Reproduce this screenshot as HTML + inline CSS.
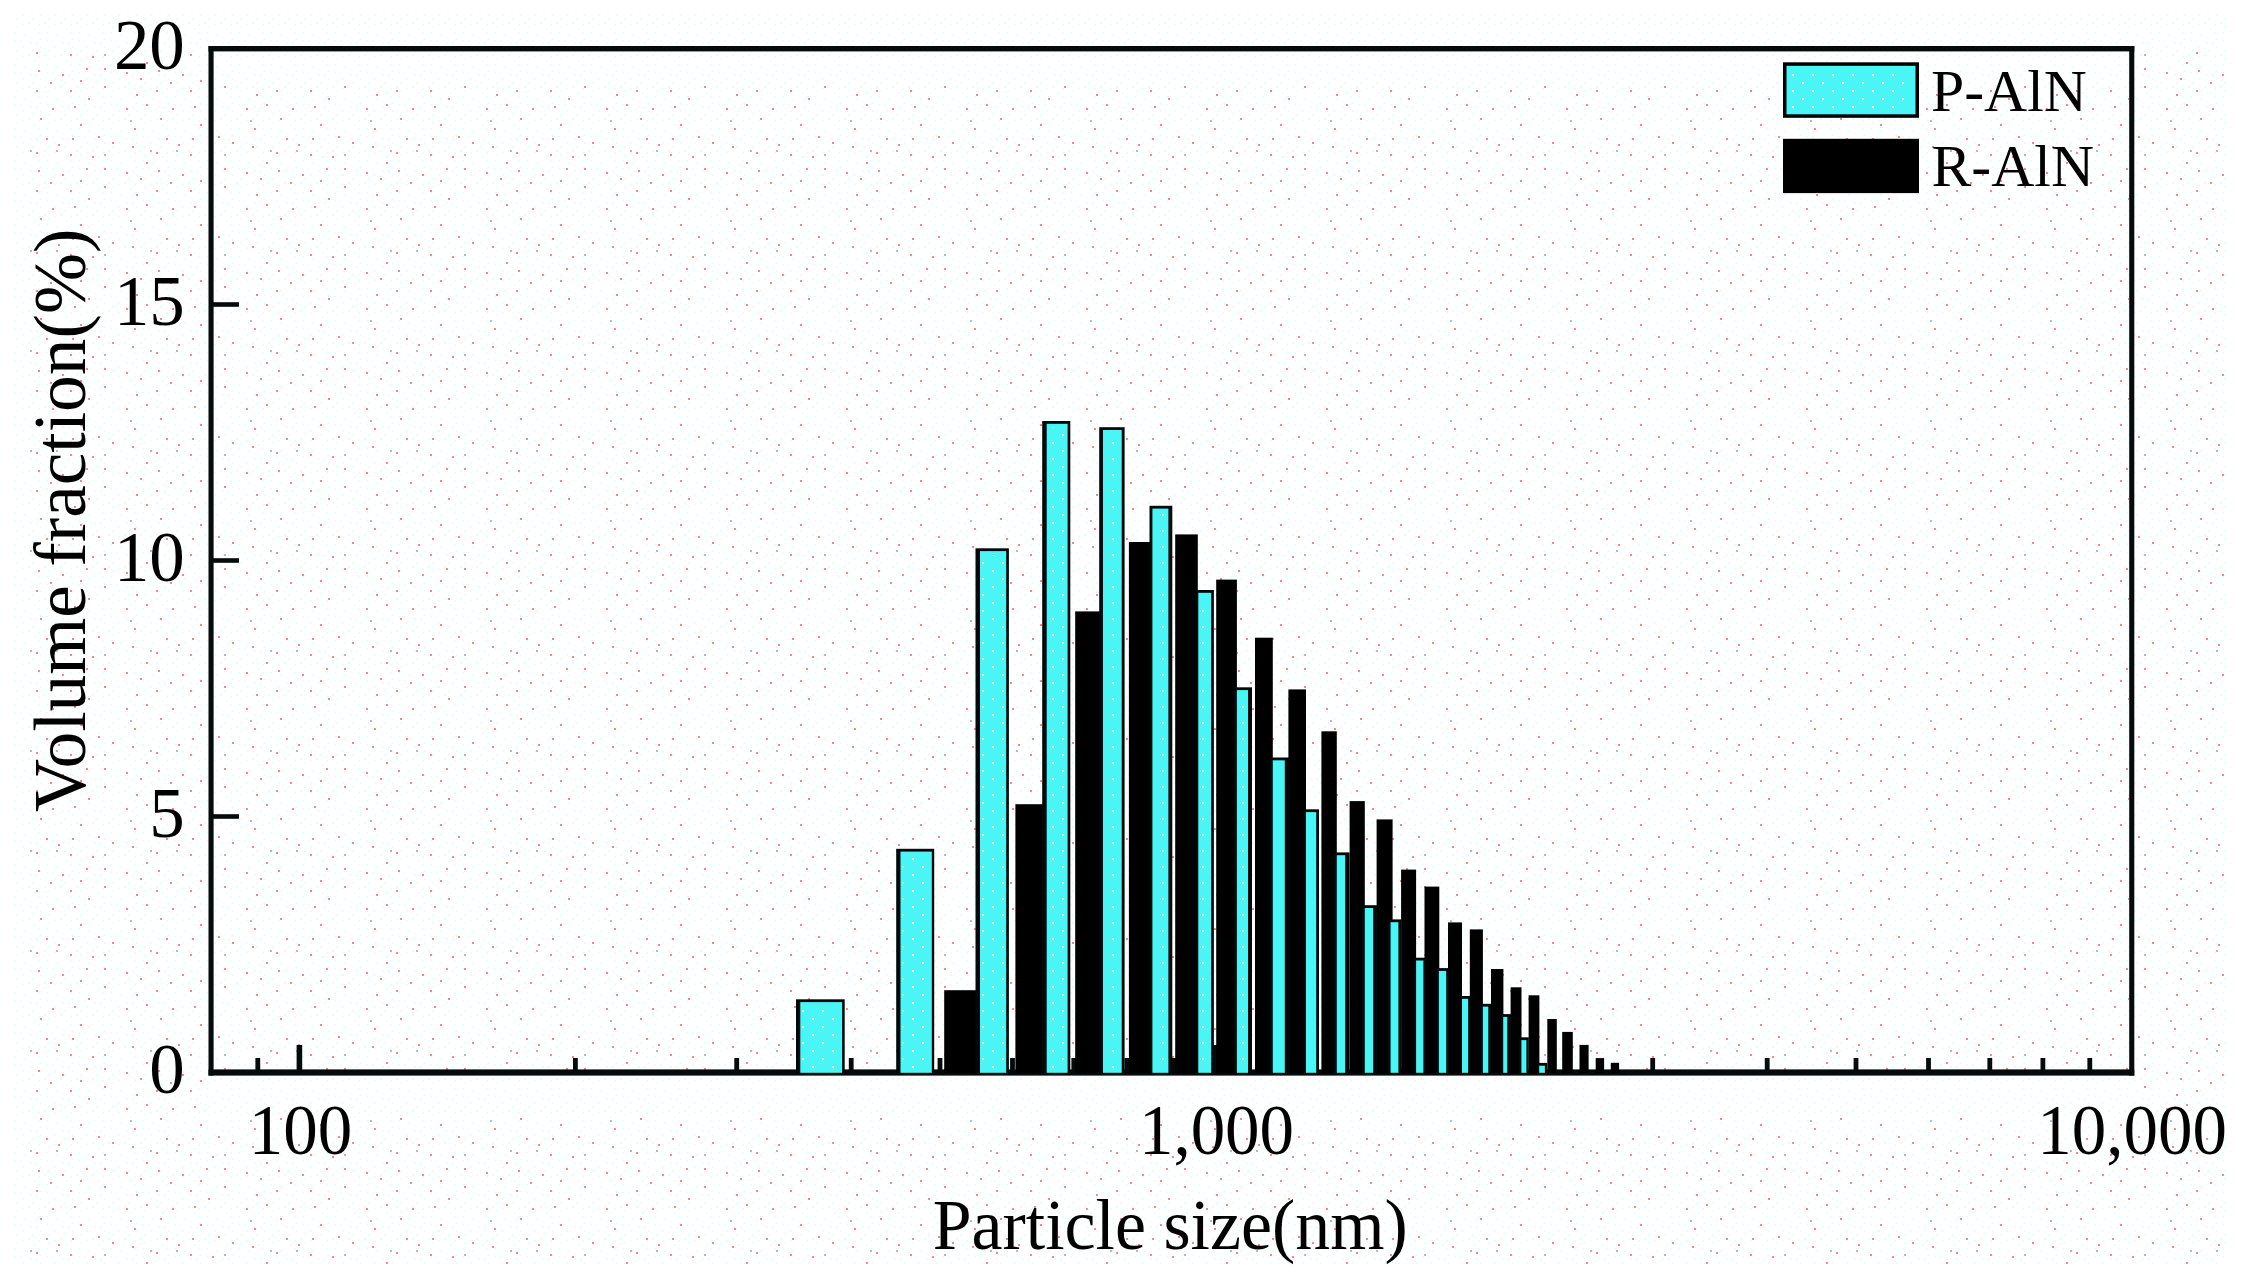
<!DOCTYPE html>
<html lang="en"><head><meta charset="utf-8"><title>Particle size distribution</title>
<style>html,body{margin:0;padding:0;background:#fff}body{width:2247px;height:1282px;overflow:hidden}svg{display:block}text{font-family:"Liberation Serif","Times New Roman",serif;fill:#000}</style></head><body>
<svg width="2247" height="1282" viewBox="0 0 2247 1282">
<defs><pattern id="bgdots" width="120" height="100" patternUnits="userSpaceOnUse"><g fill="#ee8a88"><rect x="40" y="18" width="2" height="2"/><rect x="50" y="82" width="2" height="2"/><rect x="6" y="8" width="2" height="2"/><rect x="104" y="68" width="2" height="2"/><rect x="12" y="46" width="2" height="2"/><rect x="74" y="6" width="2" height="2"/><rect x="26" y="4" width="2" height="2"/><rect x="52" y="8" width="2" height="2"/><rect x="70" y="54" width="2" height="2"/><rect x="6" y="72" width="2" height="2"/><rect x="14" y="28" width="2" height="2"/><rect x="80" y="80" width="2" height="2"/><rect x="36" y="52" width="2" height="2"/><rect x="38" y="70" width="2" height="2"/><rect x="104" y="86" width="2" height="2"/><rect x="80" y="24" width="2" height="2"/><rect x="70" y="90" width="2" height="2"/><rect x="26" y="62" width="2" height="2"/><rect x="86" y="68" width="2" height="2"/><rect x="46" y="38" width="2" height="2"/><rect x="88" y="98" width="2" height="2"/><rect x="72" y="38" width="2" height="2"/><rect x="112" y="42" width="2" height="2"/><rect x="92" y="56" width="2" height="2"/><rect x="62" y="74" width="2" height="2"/><rect x="36" y="90" width="2" height="2"/><rect x="58" y="44" width="2" height="2"/><rect x="20" y="78" width="2" height="2"/><rect x="98" y="36" width="2" height="2"/><rect x="16" y="94" width="2" height="2"/></g><g fill="#b2b6cf"><rect x="30" y="50" width="2" height="2"/><rect x="10" y="20" width="2" height="2"/><rect x="56" y="50" width="2" height="2"/><rect x="104" y="54" width="2" height="2"/></g></pattern><pattern id="faint" width="32" height="32" patternUnits="userSpaceOnUse"><g fill="#e8feff"><rect x="16" y="26" width="2" height="2"/><rect x="22" y="24" width="2" height="2"/><rect x="14" y="8" width="2" height="2"/><rect x="4" y="10" width="2" height="2"/><rect x="8" y="14" width="2" height="2"/><rect x="14" y="0" width="2" height="2"/><rect x="30" y="10" width="2" height="2"/><rect x="16" y="18" width="2" height="2"/><rect x="20" y="8" width="2" height="2"/><rect x="2" y="28" width="2" height="2"/><rect x="24" y="2" width="2" height="2"/><rect x="6" y="0" width="2" height="2"/><rect x="8" y="6" width="2" height="2"/><rect x="0" y="18" width="2" height="2"/><rect x="22" y="14" width="2" height="2"/><rect x="12" y="22" width="2" height="2"/><rect x="28" y="22" width="2" height="2"/><rect x="6" y="24" width="2" height="2"/></g></pattern><pattern id="cydots" width="20" height="16" patternUnits="userSpaceOnUse"><g fill="#fff"><rect x="2" y="2" width="2" height="2"/><rect x="12" y="10" width="2" height="2"/></g></pattern></defs>
<rect width="2247" height="1282" fill="#fff"/>
<rect x="14" y="12" width="2214" height="1254" fill="url(#faint)"/>
<rect x="28" y="52" width="178" height="1212" fill="url(#bgdots)"/>
<rect x="214" y="86" width="1915" height="984" fill="url(#bgdots)"/>
<rect x="2136" y="52" width="92" height="1212" fill="url(#bgdots)"/>
<rect x="206" y="1114" width="1930" height="150" fill="url(#bgdots)"/>
<g fill="#050a0a">
<rect x="208.5" y="46" width="5.1" height="1029.6"/>
<rect x="2129.2" y="46" width="5.1" height="1029.6"/>
<rect x="208.5" y="46" width="1925.8" height="5.4"/>
<rect x="208.5" y="1069.4" width="1925.8" height="6.2"/>
<rect x="213" y="302.2" width="26" height="4.6"/>
<rect x="213" y="558.2" width="26" height="4.6"/>
<rect x="213" y="814.2" width="26" height="4.6"/>
<rect x="296.6" y="1045" width="5.6" height="26"/>
<rect x="1212.6" y="1045" width="5.6" height="26"/>
<rect x="255.4" y="1058" width="4.8" height="13"/>
<rect x="573.0" y="1058" width="4.8" height="13"/>
<rect x="734.3" y="1058" width="4.8" height="13"/>
<rect x="848.8" y="1058" width="4.8" height="13"/>
<rect x="937.6" y="1058" width="4.8" height="13"/>
<rect x="1010.1" y="1058" width="4.8" height="13"/>
<rect x="1071.4" y="1058" width="4.8" height="13"/>
<rect x="1124.5" y="1058" width="4.8" height="13"/>
<rect x="1171.4" y="1058" width="4.8" height="13"/>
<rect x="1489.0" y="1058" width="4.8" height="13"/>
<rect x="1650.3" y="1058" width="4.8" height="13"/>
<rect x="1764.8" y="1058" width="4.8" height="13"/>
<rect x="1853.6" y="1058" width="4.8" height="13"/>
<rect x="1926.1" y="1058" width="4.8" height="13"/>
<rect x="1987.4" y="1058" width="4.8" height="13"/>
<rect x="2040.5" y="1058" width="4.8" height="13"/>
<rect x="2087.4" y="1058" width="4.8" height="13"/>
</g>
<g fill="#000">
<rect x="944.2" y="990.2" width="33.8" height="82.6"/>
<rect x="1015.4" y="804.2" width="29.6" height="268.6"/>
<rect x="1075.2" y="611.4" width="26.6" height="461.4"/>
<rect x="1128.9" y="542.0" width="22.7" height="530.8"/>
<rect x="1175.2" y="534.4" width="22.6" height="538.4"/>
<rect x="1216.2" y="579.6" width="20.7" height="493.2"/>
<rect x="1255.0" y="637.7" width="17.8" height="435.1"/>
<rect x="1288.4" y="689.4" width="17.6" height="383.4"/>
<rect x="1321.4" y="731.3" width="15.4" height="341.5"/>
<rect x="1349.6" y="801.1" width="15.2" height="271.7"/>
<rect x="1376.6" y="819.4" width="16.0" height="253.4"/>
<rect x="1401.1" y="869.6" width="15.0" height="203.2"/>
<rect x="1424.5" y="886.6" width="14.8" height="186.2"/>
<rect x="1448.0" y="922.4" width="14.0" height="150.4"/>
<rect x="1469.8" y="929.4" width="13.1" height="143.4"/>
<rect x="1491.0" y="969.0" width="12.4" height="103.8"/>
<rect x="1510.6" y="987.3" width="10.9" height="85.5"/>
<rect x="1528.6" y="995.3" width="10.8" height="77.5"/>
<rect x="1547.3" y="1019.0" width="9.5" height="53.8"/>
<rect x="1562.2" y="1031.9" width="10.6" height="40.9"/>
<rect x="1579.5" y="1044.9" width="9.1" height="27.9"/>
<rect x="1595.7" y="1058.1" width="8.4" height="14.7"/>
<rect x="1610.8" y="1062.8" width="8.3" height="10.0"/>
</g>
<rect x="796.0" y="999.3" width="48.7" height="73.5" fill="#03090a"/>
<rect x="800.3" y="1002.1" width="41.8" height="70.7" fill="#4af5f5"/>
<rect x="802.3" y="1006.1" width="37.8" height="64.7" fill="url(#cydots)"/>
<rect x="896.2" y="848.8" width="38.0" height="224.0" fill="#03090a"/>
<rect x="900.5" y="851.6" width="31.3" height="221.2" fill="#4af5f5"/>
<rect x="902.5" y="855.6" width="27.3" height="215.2" fill="url(#cydots)"/>
<rect x="975.5" y="548.3" width="33.4" height="524.5" fill="#03090a"/>
<rect x="980.0" y="551.1" width="26.2" height="521.7" fill="#4af5f5"/>
<rect x="982.0" y="555.1" width="22.2" height="515.7" fill="url(#cydots)"/>
<rect x="1042.2" y="421.0" width="28.1" height="651.8" fill="#03090a"/>
<rect x="1046.7" y="423.8" width="20.9" height="649.0" fill="#4af5f5"/>
<rect x="1048.7" y="427.8" width="16.9" height="643.0" fill="url(#cydots)"/>
<rect x="1099.2" y="427.2" width="25.4" height="645.6" fill="#03090a"/>
<rect x="1103.0" y="430.0" width="18.7" height="642.8" fill="#4af5f5"/>
<rect x="1105.0" y="434.0" width="14.7" height="636.8" fill="url(#cydots)"/>
<rect x="1149.5" y="505.8" width="22.8" height="567.0" fill="#03090a"/>
<rect x="1152.4" y="508.6" width="16.0" height="564.2" fill="#4af5f5"/>
<rect x="1154.4" y="512.6" width="12.0" height="558.2" fill="url(#cydots)"/>
<rect x="1195.7" y="590.0" width="18.2" height="482.8" fill="#03090a"/>
<rect x="1198.3" y="592.8" width="12.9" height="480.0" fill="#4af5f5"/>
<rect x="1200.3" y="596.8" width="8.9" height="474.0" fill="url(#cydots)"/>
<rect x="1234.2" y="687.3" width="17.8" height="385.5" fill="#03090a"/>
<rect x="1236.9" y="690.1" width="11.1" height="382.7" fill="#4af5f5"/>
<rect x="1238.9" y="694.1" width="7.1" height="376.7" fill="url(#cydots)"/>
<rect x="1270.2" y="757.5" width="19.6" height="315.3" fill="#03090a"/>
<rect x="1272.8" y="760.3" width="12.0" height="312.5" fill="#4af5f5"/>
<rect x="1303.4" y="809.3" width="15.6" height="263.5" fill="#03090a"/>
<rect x="1305.9" y="812.1" width="10.3" height="260.7" fill="#4af5f5"/>
<rect x="1334.0" y="852.4" width="15.6" height="220.4" fill="#03090a"/>
<rect x="1336.8" y="855.2" width="8.4" height="217.6" fill="#4af5f5"/>
<rect x="1362.2" y="905.2" width="15.3" height="167.6" fill="#03090a"/>
<rect x="1364.8" y="908.0" width="8.4" height="164.8" fill="#4af5f5"/>
<rect x="1388.0" y="919.4" width="13.1" height="153.4" fill="#03090a"/>
<rect x="1390.6" y="922.2" width="7.8" height="150.6" fill="#4af5f5"/>
<rect x="1413.6" y="957.7" width="13.2" height="115.1" fill="#03090a"/>
<rect x="1416.1" y="960.5" width="7.3" height="112.3" fill="#4af5f5"/>
<rect x="1436.4" y="968.1" width="12.8" height="104.7" fill="#03090a"/>
<rect x="1438.9" y="970.9" width="7.3" height="101.9" fill="#4af5f5"/>
<rect x="1459.5" y="996.0" width="11.1" height="76.8" fill="#03090a"/>
<rect x="1462.0" y="998.8" width="6.1" height="74.0" fill="#4af5f5"/>
<rect x="1480.4" y="1003.8" width="10.6" height="69.0" fill="#03090a"/>
<rect x="1482.9" y="1006.6" width="5.4" height="66.2" fill="#4af5f5"/>
<rect x="1500.8" y="1014.1" width="10.2" height="58.7" fill="#03090a"/>
<rect x="1503.2" y="1016.9" width="4.1" height="55.9" fill="#4af5f5"/>
<rect x="1519.0" y="1037.3" width="9.8" height="35.5" fill="#03090a"/>
<rect x="1521.4" y="1040.1" width="5.0" height="32.7" fill="#4af5f5"/>
<rect x="1536.8" y="1062.9" width="10.4" height="9.9" fill="#03090a"/>
<rect x="1539.2" y="1065.7" width="5.7" height="7.1" fill="#4af5f5"/>
<rect x="1783" y="62.3" width="136" height="55.5" fill="#000"/>
<rect x="1786.5" y="65.8" width="129" height="48.5" fill="#4af5f5"/>
<rect x="1790" y="69" width="122" height="42" fill="url(#cydots)"/>
<rect x="1783" y="138.8" width="136" height="54.3" fill="#000"/>
<text transform="translate(1931.0,110.5) scale(0.995,1)" font-size="60" text-anchor="start">P-AlN</text>
<text transform="translate(1931.5,186.0) scale(0.995,1)" font-size="60" text-anchor="start">R-AlN</text>
<text transform="translate(184.8,68.7) scale(0.985,1)" font-size="72" text-anchor="end">20</text>
<text transform="translate(184.8,324.7) scale(0.985,1)" font-size="72" text-anchor="end">15</text>
<text transform="translate(184.8,580.7) scale(0.985,1)" font-size="72" text-anchor="end">10</text>
<text transform="translate(184.8,836.7) scale(0.985,1)" font-size="72" text-anchor="end">5</text>
<text transform="translate(184.8,1092.7) scale(0.985,1)" font-size="72" text-anchor="end">0</text>
<text transform="translate(300.5,1154.0) scale(0.958,1)" font-size="72" text-anchor="middle">100</text>
<text transform="translate(1216.5,1154.0) scale(0.958,1)" font-size="72" text-anchor="middle">1,000</text>
<text transform="translate(2132.2,1154.0) scale(0.958,1)" font-size="72" text-anchor="middle">10,000</text>
<text transform="translate(1170.2,1249.4) scale(0.970,1)" font-size="72" text-anchor="middle">Particle size(nm)</text>
<text transform="translate(85,520.3) rotate(-90)" font-size="73.4" text-anchor="middle">Volume fraction(%)</text>
</svg></body></html>
